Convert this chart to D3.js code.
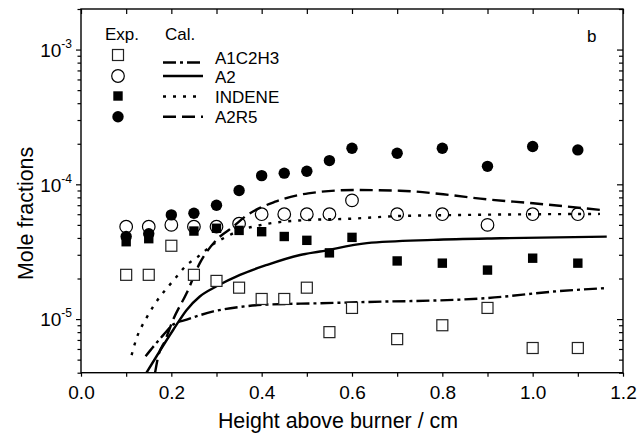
<!DOCTYPE html>
<html>
<head>
<meta charset="utf-8">
<script src="https://cdn.jsdelivr.net/npm/d3@7"></script>
<style>
body{margin:0;background:#fff;}
svg{display:block;font-family:Arial,"Liberation Sans",sans-serif;}
</style>
</head>
<body>
<script>
// experimental points
var a1c2h3ExpX = [0.1,0.15,0.2,0.25,0.3,0.35,0.4,0.45,0.5,0.55,0.6,0.7,0.8,0.9,1.0,1.1];
var a1c2h3Exp = [2.13e-5,2.13e-5,3.5e-5,2.13e-5,1.92e-5,1.71e-5,1.41e-5,1.41e-5,1.71e-5,8.0e-6,1.21e-5,7.1e-6,9.0e-6,1.21e-5,6.1e-6,6.1e-6];
var a2ExpX = [0.1,0.15,0.2,0.25,0.3,0.35,0.4,0.45,0.5,0.55,0.6,0.7,0.8,0.9,1.0,1.1];
var a2Exp = [4.85e-5,4.85e-5,5.0e-5,4.85e-5,4.85e-5,5.1e-5,6.0e-5,6.0e-5,6.0e-5,6.0e-5,7.6e-5,6.0e-5,6.0e-5,5.0e-5,6.0e-5,6.0e-5];
var indeneExpX = [0.1,0.15,0.25,0.3,0.35,0.4,0.45,0.5,0.55,0.6,0.7,0.8,0.9,1.0,1.1];
var indeneExp = [3.75e-5,3.95e-5,4.5e-5,4.72e-5,4.55e-5,4.45e-5,4.1e-5,3.84e-5,3.1e-5,4.04e-5,2.7e-5,2.6e-5,2.31e-5,2.83e-5,2.6e-5];
var a2r5ExpX = [0.1,0.15,0.2,0.25,0.3,0.35,0.4,0.45,0.5,0.55,0.6,0.7,0.8,0.9,1.0,1.1];
var a2r5Exp = [4.1e-5,4.3e-5,5.93e-5,6.1e-5,7.0e-5,9.0e-5,1.16e-4,1.21e-4,1.25e-4,1.5e-4,1.85e-4,1.7e-4,1.85e-4,1.36e-4,1.91e-4,1.8e-4];

// calculated curves
var a1c2h3CalX = [0.143,0.182,0.204,0.234,0.293,0.352,0.411,0.529,0.677,0.773,0.898,1.046,1.164];
var a1c2h3Cal = [5.3e-6,7.6e-6,9.1e-6,9.9e-6,1.14e-5,1.23e-5,1.28e-5,1.31e-5,1.35e-5,1.37e-5,1.43e-5,1.6e-5,1.7e-5];
var a2CalX = [0.145,0.204,0.234,0.263,0.300,0.352,0.411,0.485,0.529,0.633,0.780,0.928,1.164];
var a2Cal = [4.0e-6,8.3e-6,1.17e-5,1.47e-5,1.75e-5,2.13e-5,2.52e-5,2.99e-5,3.17e-5,3.66e-5,3.87e-5,3.98e-5,4.09e-5];
var indeneCalX = [0.112,0.123,0.145,0.160,0.175,0.193,0.212,0.234,0.256,0.293,0.323,0.348,0.400,0.503,0.588,0.706,0.854,1.149];
var indeneCal = [5.4e-6,7.2e-6,1.02e-5,1.24e-5,1.47e-5,1.74e-5,2.07e-5,2.52e-5,2.85e-5,3.6e-5,4.1e-5,4.5e-5,5.0e-5,5.44e-5,5.54e-5,5.82e-5,5.93e-5,6.03e-5];
var a2r5CalX = [0.164,0.171,0.186,0.204,0.234,0.263,0.300,0.337,0.363,0.430,0.503,0.603,0.706,0.802,0.898,1.001,1.149];
var a2r5Cal = [4.0e-6,5.3e-6,6.9e-6,9.9e-6,1.56e-5,2.6e-5,3.87e-5,4.85e-5,5.75e-5,7.43e-5,8.57e-5,9.07e-5,8.97e-5,8.43e-5,7.74e-5,7.23e-5,6.46e-5];

var xTicks = [0,0.1,0.2,0.3,0.4,0.5,0.6,0.7,0.8,0.9,1.0,1.1,1.2];
var legendNames = ['A1C2H3','A2','INDENE','A2R5'];

var W = 639, H = 439;
var plotL = 81, plotR = 623, plotT = 9, plotB = 372.7;

var svg = d3.select('body').append('svg').attr('width',W).attr('height',H);

var x = d3.scaleLinear().domain([0,1.2]).range([plotL,plotR]);
var y = d3.scaleLog().domain([4e-6,2e-3]).range([plotB,plotT]);

var yTicks = [];
[-6,-5,-4,-3].forEach(function(e){
	for(var m=1;m<10;m++){
		var v = m*Math.pow(10,e);
		if(v>=4e-6*0.999 && v<=2e-3*1.001) yTicks.push(v);
	}
});
var isMajorY = function(v){ return Math.abs(Math.log10(v) - Math.round(Math.log10(v))) < 1e-6; };
var isMajorX = function(v){ return Math.round(v*10)%2===0; };

svg.append('defs').append('clipPath').attr('id','plotClip')
	.append('rect').attr('x',plotL).attr('y',plotT).attr('width',plotR-plotL).attr('height',plotB-plotT);

// axes
var styleAxis = function(g){
	g.select('.domain').remove();
	g.selectAll('line').attr('stroke','#000').attr('stroke-width',1.2);
};

var gx = svg.append('g').attr('transform','translate(0,'+plotB+')')
	.call(d3.axisBottom(x).tickValues(xTicks).tickSizeOuter(0).tickSize(4).tickPadding(9)
		.tickFormat(function(d){ return isMajorX(d) ? d3.format('.1f')(d) : ''; }));
styleAxis(gx);
gx.selectAll('text').attr('font-size',19).attr('fill','#000').attr('font-family','Arial,"Liberation Sans",sans-serif');

var gxt = svg.append('g').attr('transform','translate(0,'+plotT+')')
	.call(d3.axisTop(x).tickValues(xTicks).tickSizeOuter(0).tickSize(-5).tickFormat(''));
styleAxis(gxt);

var gy = svg.append('g').attr('transform','translate('+plotL+',0)')
	.call(d3.axisLeft(y).tickValues(yTicks).tickSizeOuter(0).tickSize(5).tickFormat(''));
styleAxis(gy);
gy.selectAll('.tick line').attr('x2',function(d){ return isMajorY(d) ? -5 : -3.5; });
gy.selectAll('.tick').filter(isMajorY).each(function(d){
	var t = d3.select(this).append('text').attr('x',-9).attr('y',0).attr('dy','0.36em')
		.attr('text-anchor','end').attr('fill','#000').attr('font-size',19);
	t.append('tspan').text('10');
	t.append('tspan').attr('font-size',12).attr('dy','-0.75em').text(String(Math.round(Math.log10(d))));
});

var gyr = svg.append('g').attr('transform','translate('+plotR+',0)')
	.call(d3.axisRight(y).tickValues(yTicks).tickSizeOuter(0).tickSize(-6).tickFormat(''));
styleAxis(gyr);
gyr.selectAll('.tick line').attr('x2',function(d){ return isMajorY(d) ? -6 : -4; });

svg.append('rect').attr('x',plotL).attr('y',plotT).attr('width',plotR-plotL).attr('height',plotB-plotT)
	.attr('fill','none').attr('stroke','#000').attr('stroke-width',1.4);

// axis titles
svg.append('text').attr('x',338).attr('y',428).attr('text-anchor','middle')
	.attr('font-size',21.4).attr('fill','#000').text('Height above burner / cm');
svg.append('text').attr('transform','translate(33,280) rotate(-90)').attr('text-anchor','start')
	.attr('font-size',21.4).attr('fill','#000').text('Mole fractions');

// curves
var plot = svg.append('g').attr('clip-path','url(#plotClip)');
var drawCurve = function(xs,ys,dash){
	var pts = xs.map(function(d,i){ return [d,ys[i]]; });
	plot.append('path').datum(pts)
		.attr('d',d3.line().x(function(d){return x(d[0]);}).y(function(d){return y(d[1]);}).curve(d3.curveMonotoneX))
		.attr('fill','none').attr('stroke','#000').attr('stroke-width',2.4)
		.attr('stroke-dasharray',dash);
};
var dashes = ['13,4,3,4', null, '3,7', '13,6'];
drawCurve(a1c2h3CalX,a1c2h3Cal,dashes[0]);
drawCurve(a2CalX,a2Cal,dashes[1]);
drawCurve(indeneCalX,indeneCal,dashes[2]);
drawCurve(a2r5CalX,a2r5Cal,dashes[3]);

// symbols
var drawPoints = function(xs,ys,kind){
	var pts = xs.map(function(d,i){ return [d,ys[i]]; });
	var sel = plot.selectAll(null).data(pts).enter();
	if(kind=='openSquare'){
		sel.append('rect').attr('x',function(d){return x(d[0])-5.5;}).attr('y',function(d){return y(d[1])-5.5;})
			.attr('width',11).attr('height',11).attr('fill','#fff').attr('stroke','#222').attr('stroke-width',1.2);
	} else if(kind=='openCircle'){
		sel.append('circle').attr('cx',function(d){return x(d[0]);}).attr('cy',function(d){return y(d[1]);})
			.attr('r',6.3).attr('fill','none').attr('stroke','#000').attr('stroke-width',1.2);
	} else if(kind=='filledSquare'){
		sel.append('rect').attr('x',function(d){return x(d[0])-4.7;}).attr('y',function(d){return y(d[1])-4.7;})
			.attr('width',9.4).attr('height',9.4).attr('fill','#000');
	} else {
		sel.append('circle').attr('cx',function(d){return x(d[0]);}).attr('cy',function(d){return y(d[1]);})
			.attr('r',5.7).attr('fill','#000');
	}
};
drawPoints(a1c2h3ExpX,a1c2h3Exp,'openSquare');
drawPoints(a2ExpX,a2Exp,'openCircle');
drawPoints(indeneExpX,indeneExp,'filledSquare');
drawPoints(a2r5ExpX,a2r5Exp,'filledCircle');

// legend
var leg = svg.append('g').attr('font-size',17).attr('fill','#000');
leg.append('text').attr('x',105).attr('y',40).text('Exp.');
leg.append('text').attr('x',165).attr('y',40).text('Cal.');
var symY = [55,76,96,116.7];
var lineY = [62.5,76,96.5,116.7];
var labY = [57.5,76.5,96.5,116.7];
leg.append('rect').attr('x',112.5).attr('y',symY[0]-5.5).attr('width',11).attr('height',11)
	.attr('fill','#fff').attr('stroke','#222').attr('stroke-width',1.2);
leg.append('circle').attr('cx',118).attr('cy',symY[1]).attr('r',6.3)
	.attr('fill','none').attr('stroke','#000').attr('stroke-width',1.2);
leg.append('rect').attr('x',113.3).attr('y',symY[2]-4.7).attr('width',9.4).attr('height',9.4).attr('fill','#000');
leg.append('circle').attr('cx',118).attr('cy',symY[3]).attr('r',5.7).attr('fill','#000');
legendNames.forEach(function(n,i){
	leg.append('line').attr('x1',163).attr('x2',203).attr('y1',lineY[i]).attr('y2',lineY[i])
		.attr('stroke','#000').attr('stroke-width',2.4).attr('stroke-dasharray',dashes[i]);
	leg.append('text').attr('x',215).attr('y',labY[i]).attr('dy','0.36em').text(n);
});
leg.append('text').attr('x',587).attr('y',42).text('b');
</script>
</body>
</html>
